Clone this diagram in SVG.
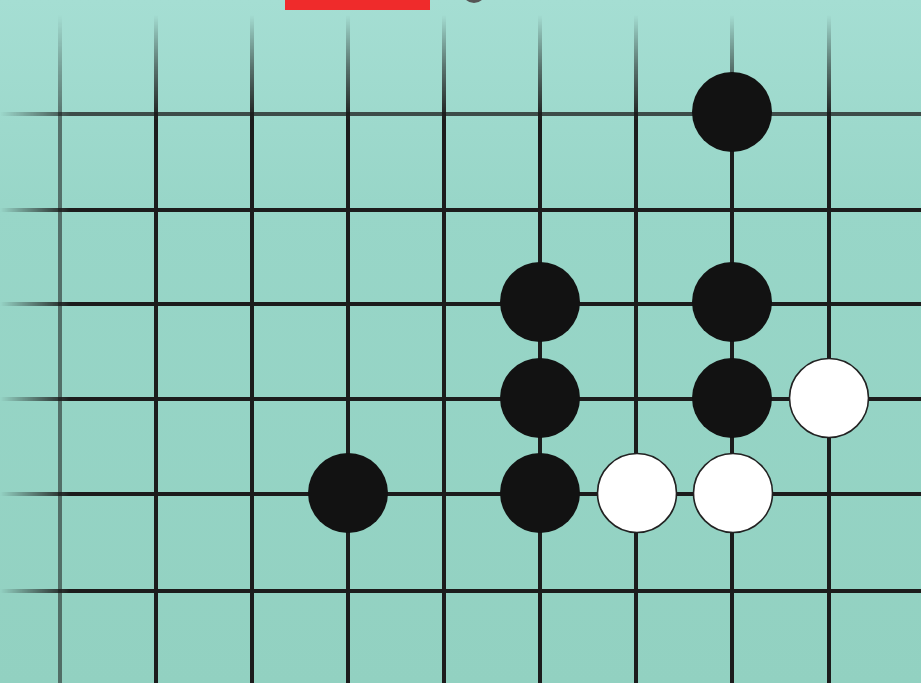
<svg xmlns="http://www.w3.org/2000/svg" width="921" height="683" viewBox="0 0 921 683">
  <defs>
    <linearGradient id="bg" x1="0" y1="0" x2="0" y2="1">
      <stop offset="0" stop-color="#a5ded3"/>
      <stop offset="0.3" stop-color="#98d6c8"/>
      <stop offset="1" stop-color="#92d1c1"/>
    </linearGradient>
    <linearGradient id="vfade" gradientUnits="userSpaceOnUse" x1="0" y1="15" x2="0" y2="120">
      <stop offset="0" stop-color="#fff" stop-opacity="0"/>
      <stop offset="0.5" stop-color="#fff" stop-opacity="0.55"/>
      <stop offset="1" stop-color="#fff" stop-opacity="1"/>
    </linearGradient>
    <linearGradient id="hfade" gradientUnits="userSpaceOnUse" x1="0" y1="0" x2="70" y2="0">
      <stop offset="0" stop-color="#fff" stop-opacity="0"/>
      <stop offset="1" stop-color="#fff" stop-opacity="1"/>
    </linearGradient>
    <mask id="vmask" maskUnits="userSpaceOnUse" x="0" y="0" width="921" height="683">
      <rect x="0" y="0" width="921" height="683" fill="url(#vfade)"/>
    </mask>
    <mask id="hmask" maskUnits="userSpaceOnUse" x="0" y="0" width="921" height="683">
      <rect x="0" y="0" width="921" height="683" fill="url(#hfade)"/>
    </mask>
    <style>
      .ln { stroke: #1c1c1c; stroke-width: 4; fill: none; }
      .blk { fill: #121212; }
      .wht { fill: #ffffff; stroke: #222; stroke-width: 1.6; }
    </style>
  </defs>
  <rect x="0" y="0" width="921" height="683" fill="url(#bg)"/>
  <rect x="285" y="0" width="145" height="10" fill="#ef2b2b"/>
  <circle cx="474" cy="-9" r="12" fill="#555"/>

  <g id="connectors">
    <g id="vertical-lines" mask="url(#vmask)">
      <line class="ln" x1="60" y1="0" x2="60" y2="683" stroke-opacity="0.55"/>
      <line class="ln" x1="156" y1="0" x2="156" y2="683"/>
      <line class="ln" x1="252" y1="0" x2="252" y2="683"/>
      <line class="ln" x1="348" y1="0" x2="348" y2="683"/>
      <line class="ln" x1="444" y1="0" x2="444" y2="683"/>
      <line class="ln" x1="540" y1="0" x2="540" y2="683"/>
      <line class="ln" x1="636" y1="0" x2="636" y2="683"/>
      <line class="ln" x1="732" y1="0" x2="732" y2="683"/>
      <line class="ln" x1="829" y1="0" x2="829" y2="683"/>
    </g>
    <g id="horizontal-lines" mask="url(#hmask)">
      <line class="ln" x1="0" y1="114" x2="921" y2="114" stroke-opacity="0.75"/>
      <line class="ln" x1="0" y1="210" x2="921" y2="210"/>
      <line class="ln" x1="0" y1="304" x2="921" y2="304"/>
      <line class="ln" x1="0" y1="399" x2="921" y2="399"/>
      <line class="ln" x1="0" y1="494" x2="921" y2="494"/>
      <line class="ln" x1="0" y1="591" x2="921" y2="591"/>
    </g>
  </g>

  <g id="b1"><circle class="blk" cx="732" cy="112" r="40"/></g>
  <g id="b2"><circle class="blk" cx="540" cy="302" r="40"/></g>
  <g id="b3"><circle class="blk" cx="732" cy="302" r="40"/></g>
  <g id="b4"><circle class="blk" cx="540" cy="398" r="40"/></g>
  <g id="b5"><circle class="blk" cx="732" cy="398" r="40"/></g>
  <g id="b6"><circle class="blk" cx="348" cy="493" r="40"/></g>
  <g id="b7"><circle class="blk" cx="540" cy="493" r="40"/></g>
  <g id="w1"><circle class="wht" cx="829" cy="398" r="39.5"/></g>
  <g id="w2"><circle class="wht" cx="637" cy="493" r="39.5"/></g>
  <g id="w3"><circle class="wht" cx="733" cy="493" r="39.5"/></g>
</svg>
